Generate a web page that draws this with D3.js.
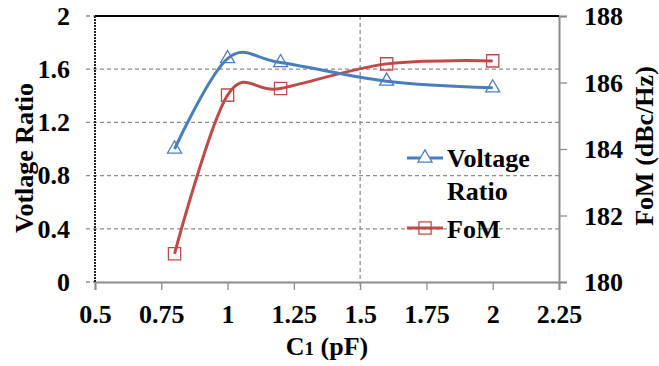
<!DOCTYPE html>
<html>
<head>
<meta charset="utf-8">
<script src="https://cdn.jsdelivr.net/npm/d3@7"></script>
<style>
  body { margin: 0; background: #fff; }
  text { font-family: "Liberation Serif", Tinos, "Times New Roman", Times, "DejaVu Serif", serif; font-weight: bold; fill: #000; }
</style>
</head>
<body>
<svg id="chart"></svg>
<script>
// data
var capValues = [0.8, 1.0, 1.2, 1.6, 2.0];
var voltageRatio = [1.0, 1.68, 1.65, 1.51, 1.46];
var fom = [180.85, 185.62, 185.82, 186.56, 186.65];
var xTicks = [0.5, 0.75, 1, 1.25, 1.5, 1.75, 2, 2.25];
var yLeftTicks = [0, 0.4, 0.8, 1.2, 1.6, 2];
var yRightTicks = [180, 182, 184, 186, 188];
var xGrid = [0.5, 1.5];

var W = 659, H = 366;
var margin = {left: 95, right: 100, top: 16, bottom: 84};
var blue = '#4a7ebb', red = '#be4b48';
var serif = '"Liberation Serif", Tinos, "Times New Roman", Times, "DejaVu Serif", serif';

var svg = d3.select('#chart').attr('width', W).attr('height', H);

var x = d3.scaleLinear().domain([0.5, 2.25]).range([margin.left, W - margin.right]);
var yL = d3.scaleLinear().domain([0, 2]).range([H - margin.bottom, margin.top]);
var yR = d3.scaleLinear().domain([180, 188]).range([H - margin.bottom, margin.top]);

// horizontal gridlines (extend out to the left as tick marks)
svg.selectAll('.hgrid').data(yLeftTicks.slice(1, -1)).enter()
  .append('line')
  .attr('x1', margin.left - 9).attr('x2', W - margin.right)
  .attr('y1', function(d) { return yL(d) }).attr('y2', function(d) { return yL(d) })
  .attr('stroke', '#8c8c8c').attr('stroke-width', 1.3).attr('stroke-dasharray', '4,3');
// short dashes outside the axis for 0 and 2
svg.selectAll('.htick').data([0, 2]).enter()
  .append('line')
  .attr('x1', margin.left - 9).attr('x2', margin.left)
  .attr('y1', function(d) { return yL(d) }).attr('y2', function(d) { return yL(d) })
  .attr('stroke', '#8c8c8c').attr('stroke-width', 1.3).attr('stroke-dasharray', '4,3');

// vertical gridline
svg.selectAll('.vgrid').data(xGrid.slice(1)).enter()
  .append('line')
  .attr('x1', function(d) { return x(d) }).attr('x2', function(d) { return x(d) })
  .attr('y1', margin.top).attr('y2', H - margin.bottom + 8)
  .attr('stroke', '#8c8c8c').attr('stroke-width', 1.3).attr('stroke-dasharray', '4,3');

// bottom axis
var xAxis = d3.axisBottom(x).tickValues(xTicks).tickSize(8).tickFormat(d3.format(''));
var gx = svg.append('g').attr('transform', `translate(0,${H - margin.bottom})`).call(xAxis)
  .attr('font-family', serif).attr('font-size', 26);
gx.select('.domain').attr('stroke', '#8c8c8c').attr('stroke-width', 2);
gx.selectAll('.tick line').attr('stroke', '#8c8c8c').attr('stroke-width', 1.3);
gx.selectAll('.tick text').attr('dy', 0).attr('y', 41);

// right axis
var yAxisR = d3.axisRight(yR).tickValues(yRightTicks).tickSize(8).tickFormat(d3.format('d'));
var gr = svg.append('g').attr('transform', `translate(${W - margin.right},0)`).call(yAxisR)
  .attr('font-family', serif).attr('font-size', 26);
gr.select('.domain').attr('stroke', '#8c8c8c').attr('stroke-width', 2);
gr.selectAll('.tick line').attr('stroke', '#8c8c8c').attr('stroke-width', 1.3);
gr.selectAll('.tick text').attr('x', 25).attr('dy', '0.34em');

// left axis labels
svg.selectAll('.ylab').data(yLeftTicks).enter()
  .append('text')
  .attr('x', 70).attr('y', function(d) { return yL(d) }).attr('dy', '0.34em')
  .attr('text-anchor', 'end').attr('font-size', 26)
  .text(function(d) { return d });

// top border and left axis
svg.append('line').attr('x1', margin.left).attr('x2', W - margin.right)
  .attr('y1', margin.top).attr('y2', margin.top).attr('stroke', '#000').attr('stroke-width', 2);
svg.append('line').attr('x1', margin.left).attr('x2', margin.left)
  .attr('y1', margin.top).attr('y2', H - margin.bottom)
  .attr('stroke', '#222').attr('stroke-width', 2).attr('stroke-dasharray', '2,1');

// series
var pts = capValues.map(function(c, i) { return {x: c, v: voltageRatio[i], f: fom[i]} });
var smooth = d3.curveCardinal.tension(0);

svg.append('path').datum(pts)
  .attr('d', d3.line().x(function(d) { return x(d.x) }).y(function(d) { return yR(d.f) }).curve(smooth))
  .attr('fill', 'none').attr('stroke', red).attr('stroke-width', 3);
svg.append('path').datum(pts)
  .attr('d', d3.line().x(function(d) { return x(d.x) }).y(function(d) { return yL(d.v) }).curve(smooth))
  .attr('fill', 'none').attr('stroke', blue).attr('stroke-width', 3);

var tri = d3.symbol().type(d3.symbolTriangle).size(85);
var sq = d3.symbol().type(d3.symbolSquare).size(150);

svg.selectAll('.sq').data(pts).enter()
  .append('path').attr('d', sq())
  .attr('transform', function(d) { return `translate(${x(d.x)},${yR(d.f)})` })
  .attr('fill', 'none').attr('stroke', red).attr('stroke-width', 1.3);
svg.selectAll('.tri').data(pts).enter()
  .append('path').attr('d', tri())
  .attr('transform', function(d) { return `translate(${x(d.x)},${yL(d.v)})` })
  .attr('fill', 'none').attr('stroke', blue).attr('stroke-width', 1.3);

// legend
var lg = svg.append('g');
lg.append('line').attr('x1', 407).attr('x2', 443).attr('y1', 158).attr('y2', 158)
  .attr('stroke', blue).attr('stroke-width', 3);
lg.append('path').attr('d', tri()).attr('transform', 'translate(425,158)')
  .attr('fill', '#fff').attr('stroke', blue).attr('stroke-width', 1.3);
lg.append('text').attr('x', 447).attr('y', 167).attr('font-size', 26).text('Voltage');
lg.append('text').attr('x', 447).attr('y', 200).attr('font-size', 26).text('Ratio');
lg.append('line').attr('x1', 407).attr('x2', 443).attr('y1', 228).attr('y2', 228)
  .attr('stroke', red).attr('stroke-width', 3);
lg.append('path').attr('d', sq()).attr('transform', 'translate(425,228)')
  .attr('fill', 'none').attr('stroke', red).attr('stroke-width', 1.3);
lg.append('text').attr('x', 447).attr('y', 238).attr('font-size', 26).text('FoM');

// axis titles
svg.append('text').attr('transform', 'translate(33,158) rotate(-90)')
  .attr('text-anchor', 'middle').attr('font-size', 26).text('Votlage Ratio');
svg.append('text').attr('transform', 'translate(653,146) rotate(-90)')
  .attr('text-anchor', 'middle').attr('font-size', 26).text('FoM (dBc/Hz)');
var xt = svg.append('text').attr('x', 327).attr('y', 355).attr('text-anchor', 'middle').attr('font-size', 26);
xt.append('tspan').text('C');
xt.append('tspan').attr('font-size', 19).text('1');
xt.append('tspan').text(' (pF)');
</script>
</body>
</html>
